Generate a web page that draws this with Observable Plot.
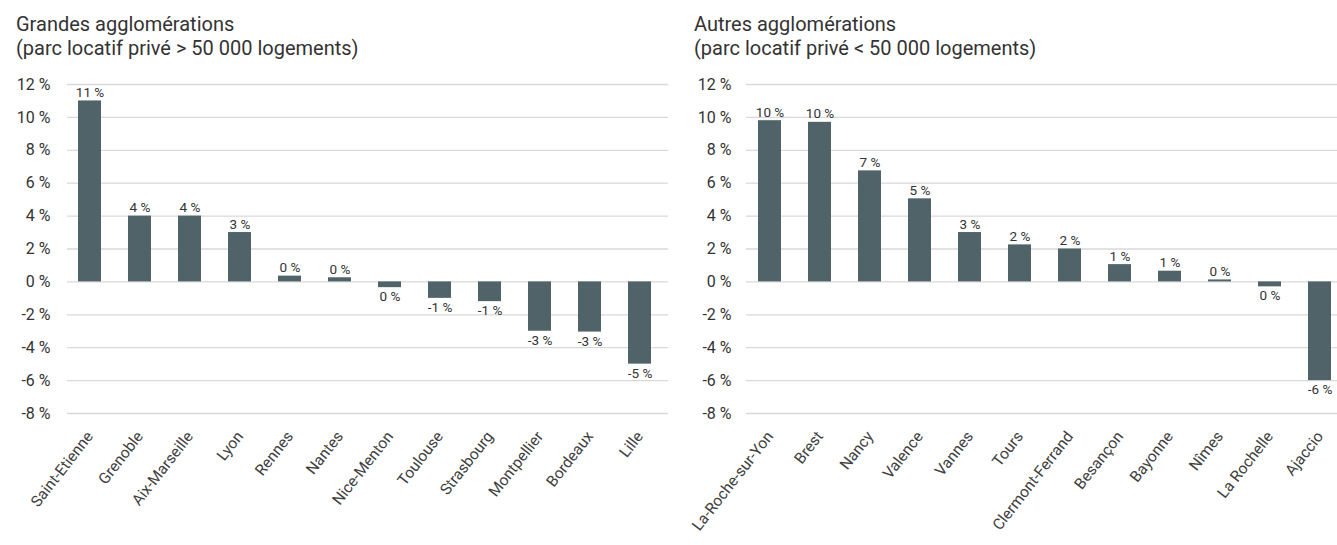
<!DOCTYPE html>
<html><head><meta charset="utf-8">
<script src="https://cdn.jsdelivr.net/npm/d3@7"></script>
<script src="https://cdn.jsdelivr.net/npm/@observablehq/plot@0.6"></script>
<style>
body{margin:0;background:#fff;font-family:Roboto,sans-serif;color:#333;}
#wrap{display:flex;width:1337px;height:545px;overflow:hidden;}
.panel{position:relative;}
.title{font-size:20px;line-height:24px;padding-top:12px;height:52px;white-space:nowrap;}
svg{overflow:visible;}
</style></head><body>
<div id="wrap">
<div class="panel" id="p1" style="width:668px"><div class="title" style="padding-left:16px">Grandes agglomérations<br>(parc locatif privé &gt; 50 000 logements)</div></div>
<div class="panel" id="p2" style="width:669px"><div class="title" style="padding-left:26px">Autres agglomérations<br>(parc locatif privé &lt; 50 000 logements)</div></div>
</div>
<script>
const grandesVilles = ["Saint-Etienne","Grenoble","Aix-Marseille","Lyon","Rennes","Nantes","Nice-Menton","Toulouse","Strasbourg","Montpellier","Bordeaux","Lille"];
const grandesEvolution = [11.0, 4.0, 4.0, 3.0, 0.35, 0.25, -0.35, -1.0, -1.2, -3.0, -3.05, -5.0];
const autresVilles = ["La-Roche-sur-Yon","Brest","Nancy","Valence","Vannes","Tours","Clermont-Ferrand","Besançon","Bayonne","Nîmes","La Rochelle","Ajaccio"];
const autresEvolution = [9.8, 9.7, 6.75, 5.05, 3.0, 2.25, 2.0, 1.05, 0.65, 0.12, -0.3, -6.0];
const yTicks = [-8, -6, -4, -2, 0, 2, 4, 6, 8, 10, 12];

const fmt = v => `${Math.round(v)} %`;

function chart(names, values, cfg) {
  const data = names.map((n, i) => ({name: n, value: values[i]}));
  return Plot.plot({
    width: cfg.width, height: 481,
    marginTop: 20, marginBottom: 132, marginLeft: cfg.marginLeft, marginRight: 0,
    style: {fontFamily: "Roboto, sans-serif", fontSize: "14px", color: "#333", background: "transparent", overflow: "visible"},
    x: {domain: names, range: cfg.xRange, paddingInner: 0.54, paddingOuter: 0.27, label: null},
    y: {domain: [-8, 12], label: null},
    marks: [
      Plot.gridY(yTicks, {stroke: "#d9d9d9", strokeOpacity: 1, strokeWidth: 1.3}),
      Plot.axisY(yTicks, {tickSize: 0, tickPadding: cfg.tickPad, tickFormat: d => `${d} %`, fontSize: 16, label: null}),
      Plot.barY(data, {x: "name", y: "value", fill: "#4f6369"}),
      Plot.text(data.filter(d => d.value >= 0), {x: "name", y: "value", text: d => fmt(d.value), lineAnchor: "bottom", dy: -4, fontSize: 13.5, fill: "#333"}),
      Plot.text(data.filter(d => d.value < 0), {x: "name", y: "value", text: d => fmt(d.value), lineAnchor: "top", dy: 4, fontSize: 13.5, fill: "#333"}),
      Plot.axisX({tickSize: 0, tickRotate: -52, tickPadding: 20, fontSize: 15.5, fill: "#404040", label: null})
    ]
  });
}

document.getElementById("p1").append(chart(grandesVilles, grandesEvolution, {width: 668, marginLeft: 67, xRange: [63, 666], tickPad: 17}));
document.getElementById("p2").append(chart(autresVilles, autresEvolution, {width: 669, marginLeft: 78, xRange: [75, 678], tickPad: 15}));
</script>
</body></html>
